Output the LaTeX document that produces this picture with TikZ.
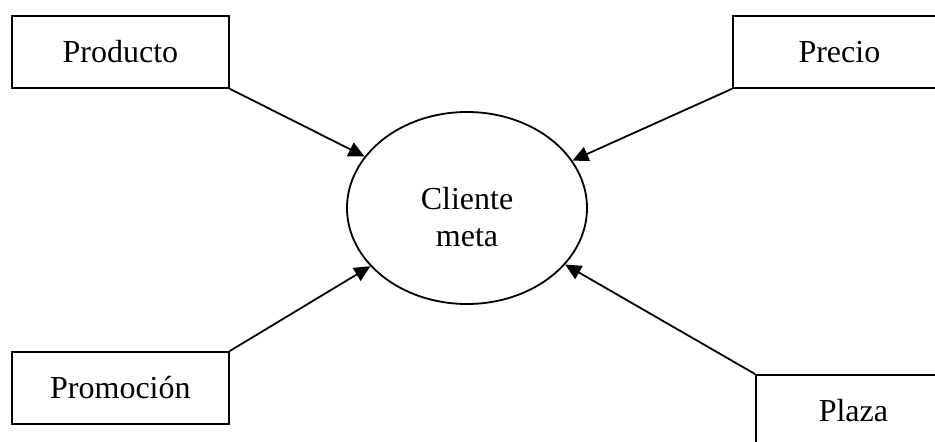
\documentclass[tikz,border=0pt]{standalone}
\usepackage{fontspec}
\setmainfont{Liberation Serif}
\usetikzlibrary{arrows.meta,shapes.geometric}
\begin{document}
\begin{tikzpicture}[x=1pt,y=-1pt,
  mixbox/.style={draw, line width=1.8pt, rectangle, minimum width=217pt,
    minimum height=72pt, inner sep=0pt, font=\fontsize{32}{37}\selectfont},
  goal/.style={draw, line width=1.8pt, ellipse, minimum width=240pt,
    minimum height=192pt, inner sep=0pt,
    font=\fontsize{32}{37}\selectfont},
  feed/.style={line width=1.8pt, -{Triangle[length=16pt,width=15pt]}}]
  \useasboundingbox (0,0) rectangle (935,442);
  \clip (0,0) rectangle (935,442);
  % target customer in the middle
  \node[goal] (cm) at (467,208)
    {\raisebox{-13pt}[\height][\depth]{\begin{tabular}{@{}c@{}}Cliente\hspace{16pt}\\meta\end{tabular}}};
  % the four elements of the marketing mix
  \node[mixbox, anchor=north west] (prod) at (11,15) {Producto};
  \node[mixbox, anchor=north west, minimum width=213pt] (prec) at (732,15) {Precio};
  \node[mixbox, anchor=north west] (prom) at (11,351) {Promoción};
  \node[mixbox, anchor=north west, minimum width=195pt] (plaz) at (755,374) {Plaza};
  % each element points at the customer
  \draw[feed] (prod.south east) -- (cm);
  \draw[feed] (prec.south west) -- (cm);
  \draw[feed] (prom.north east) -- (cm);
  \draw[feed] (plaz.north west) -- (cm);
\end{tikzpicture}
\end{document}
